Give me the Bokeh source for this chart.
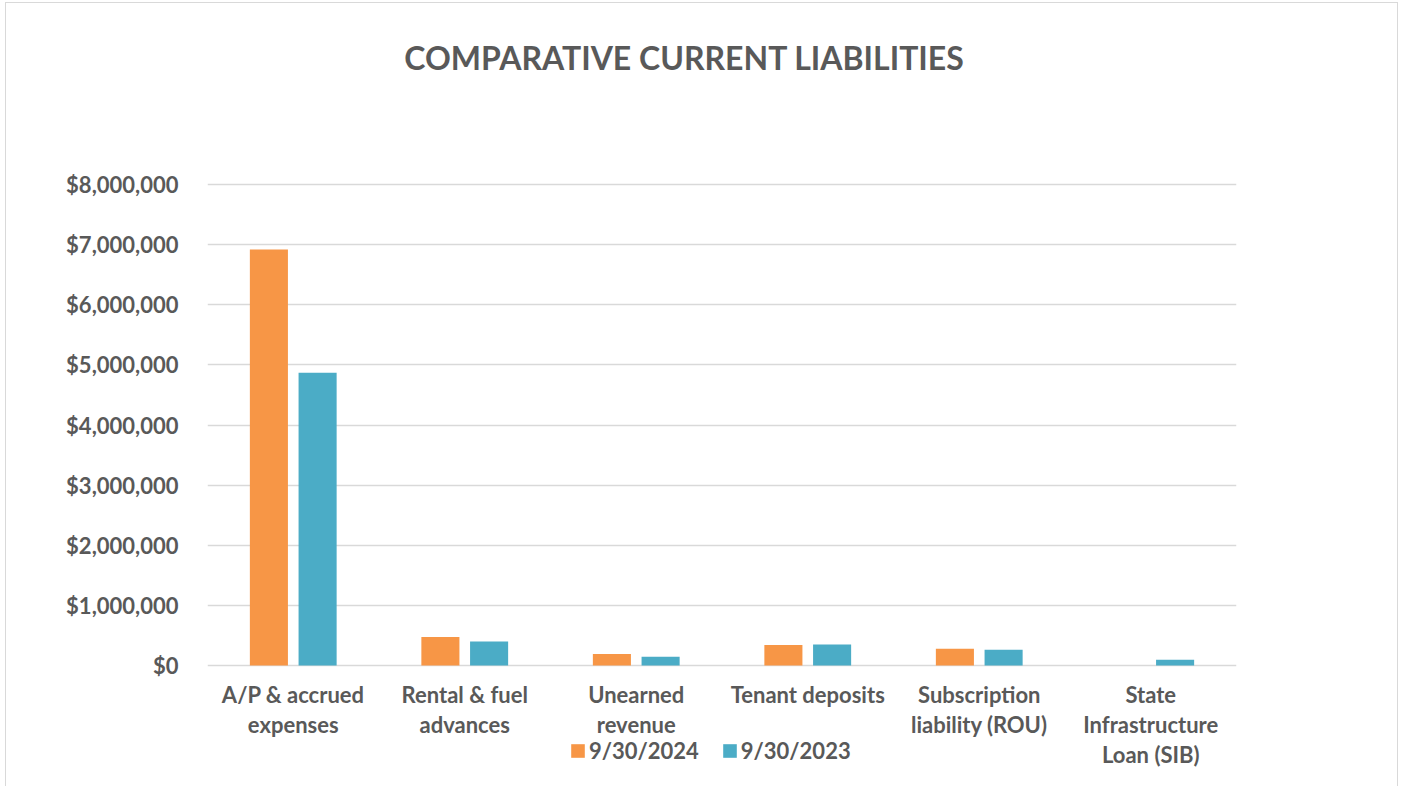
from bokeh.plotting import figure
from bokeh.models import (ColumnDataSource, FactorRange, Range1d, FixedTicker,
                          NumeralTickFormatter, Legend, LegendItem, Label)
from bokeh.transform import dodge
from bokeh.embed import file_html
from bokeh.resources import INLINE

categories = [
    "A/P & accrued\nexpenses",
    "Rental & fuel\nadvances",
    "Unearned\nrevenue",
    "Tenant deposits",
    "Subscription\nliability (ROU)",
    "State\nInfrastructure\nLoan (SIB)",
]
fy2024 = [6920000, 473000, 190000, 340000, 278000, 0]
fy2023 = [4870000, 400000, 145000, 350000, 262000, 95000]
series_labels = ["9/30/2024", "9/30/2023"]
y_ticks = [0, 1000000, 2000000, 3000000, 4000000, 5000000, 6000000, 7000000, 8000000]

ORANGE = "#F79646"
TEAL = "#4BACC6"
TEXT = "#595959"
GRID = "#D9D9D9"
FONT = "Lato"

# canvas geometry (pixels from the top of the canvas)
H = 784
ZERO_PX = 662      # where $0 sits
TOP_TICK_PX = 181  # where the top tick sits
scale = (ZERO_PX - TOP_TICK_PX) / y_ticks[-1]
y_start = -(H - ZERO_PX) / scale
y_end = ZERO_PX / scale

source = ColumnDataSource(data=dict(cat=categories, a=fy2024, b=fy2023))

p = figure(
    x_range=FactorRange(*categories, range_padding=0),
    y_range=Range1d(y_start, y_end),
    width=1393, height=H,
    output_backend="svg", toolbar_location=None,
    min_border_left=201, min_border_right=163,
    min_border_top=0, min_border_bottom=0,
)
p.styles = {"margin-left": "5px", "margin-top": "2px",
            "border-left": "1px solid #D9D9D9",
            "border-top": "1px solid #D9D9D9",
            "border-right": "1px solid #D9D9D9"}
p.outline_line_color = None
p.background_fill_color = "white"
p.border_fill_color = "white"

r1 = p.vbar(x=dodge("cat", -0.142, range=p.x_range), top="a", width=0.222,
            source=source, fill_color=ORANGE, line_color=None)
r2 = p.vbar(x=dodge("cat", 0.142, range=p.x_range), top="b", width=0.222,
            source=source, fill_color=TEAL, line_color=None)

p.xgrid.grid_line_color = None
p.ygrid.grid_line_color = GRID
p.ygrid.grid_line_width = 1.6
p.ygrid.level = "underlay"

p.yaxis.ticker = FixedTicker(ticks=y_ticks)
p.yaxis.formatter = NumeralTickFormatter(format="$0,0")
p.yaxis.axis_line_color = None
p.yaxis.major_tick_line_color = None
p.yaxis.minor_tick_line_color = None
p.yaxis.major_label_text_font = FONT
p.yaxis.major_label_text_font_style = "bold"
p.yaxis.major_label_text_color = TEXT
p.yaxis.major_label_text_font_size = "22px"
p.yaxis.major_label_standoff = 23
p.xaxis.visible = False

# category labels under each pair of bars
p.text(x="cat", y=0, text="cat", source=source, y_offset=15,
       text_align="center", text_baseline="top", text_line_height=1.12,
       text_font={"value": FONT}, text_font_style="bold",
       text_font_size="22px", text_color=TEXT)

title = Label(x=477, y=H - 54, x_units="screen", y_units="screen",
              text="COMPARATIVE CURRENT LIABILITIES", text_align="center",
              text_baseline="middle", text_font=FONT, text_font_style="bold",
              text_font_size="32px", text_color=TEXT)
p.add_layout(title)

legend = Legend(items=[LegendItem(label=series_labels[0], renderers=[r1]),
                       LegendItem(label=series_labels[1], renderers=[r2])],
                orientation="horizontal", location=(362, 23),
                glyph_width=17, glyph_height=17, label_standoff=3, spacing=22,
                padding=0, margin=0, border_line_color=None,
                background_fill_alpha=0, label_text_font=FONT,
                label_text_font_style="bold", label_text_font_size="22px",
                label_text_color=TEXT)
p.add_layout(legend, "center")

open("out.html", "w").write(file_html(p, INLINE))
